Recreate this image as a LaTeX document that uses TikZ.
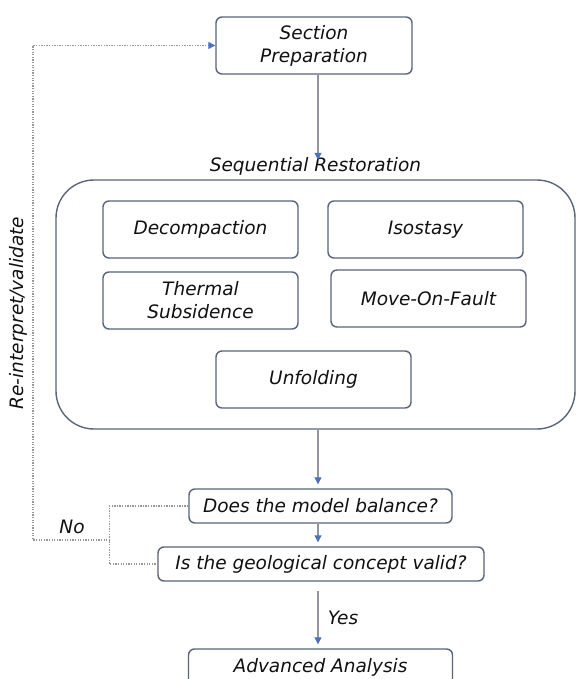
\documentclass[tikz,border=0pt]{standalone}
\usepackage{fontspec}
\setmainfont{DejaVu Sans}
\usetikzlibrary{arrows.meta}
\definecolor{boxc}{HTML}{5A6579}
\definecolor{linec}{HTML}{8E96A4}
\definecolor{arrc}{HTML}{4A72C0}
\definecolor{dotc}{HTML}{969696}
\definecolor{txtc}{HTML}{111111}
\begin{document}
\begin{tikzpicture}[x=1pt,y=-1pt,
  stepbox/.style={draw=boxc, line width=1.4pt, rounded corners=6pt, inner sep=0pt,
    align=center, text=txtc, font=\itshape\fontsize{18.5}{23}\selectfont},
  flow/.style={draw=linec, line width=1.1pt,
    -{Triangle[length=7pt,width=7pt,color=arrc,fill=arrc]}},
  fb/.style={draw=dotc, line width=1.2pt, dash pattern=on 1.3pt off 1.3pt},
  fbarrow/.style={fb, -{Triangle[length=7pt,width=7pt,color=arrc,fill=arrc]}},
  lbl/.style={inner sep=0pt, text=txtc, font=\itshape\fontsize{18.5}{23}\selectfont}]
\useasboundingbox (0,0) rectangle (576,679);
\clip (0,0) rectangle (576,679);
\fill[white] (0,0) rectangle (576,679);
\coordinate (ax) at (318,0);

\node[stepbox, minimum width=196pt, minimum height=57pt] (sp) at (314,45.5) {Section\\Preparation};
\node[lbl] (seq) at (315.5,166) {Sequential Restoration};

\node[draw=boxc, line width=1.4pt, rounded corners=38pt, minimum width=519pt,
  minimum height=249pt, inner sep=0pt] (big) at (315.5,304.5) {};

\node[stepbox, minimum width=195pt, minimum height=57pt] (dec) at (200.5,229.5) {Decompaction};
\node[stepbox, minimum width=195pt, minimum height=57pt] (iso) at (425.5,229.5) {Isostasy};
\node[stepbox, minimum width=195pt, minimum height=57pt] (thm) at (200.5,300.5) {Thermal\\Subsidence};
\node[stepbox, minimum width=195pt, minimum height=57pt] (mof) at (428.5,298.5) {Move-On-Fault};
\node[stepbox, minimum width=195pt, minimum height=57pt] (unf) at (313.5,379.5) {Unfolding};

\node[stepbox, minimum width=263pt, minimum height=34pt] (q1) at (320.5,506) {Does the model balance?};
\node[stepbox, minimum width=326pt, minimum height=34pt] (q2) at (321,564) {Is the geological concept valid?};
\node[stepbox, minimum width=264pt, minimum height=36pt] (adv) at (320.5,667) {Advanced Analysis};

\node[lbl] (yes) at (343,618) {Yes};
\node[lbl] (no) at (72,527) {No};
\node[lbl, rotate=90] (rev) at (18,313) {Re-interpret/validate};

\draw[flow, shorten >=1pt] (sp.south -| ax) -- ([yshift=-4pt]seq.north -| ax);
\draw[flow, shorten >=4pt] (big.south -| ax) -- (q1.north -| ax);
\draw[flow, shorten >=4pt] (q1.south -| ax) -- (q2.north -| ax);
\draw[flow, shorten <=9pt, shorten >=4pt] (q2.south -| ax) -- (adv.north -| ax);

\coordinate (j1) at (110,540);
\coordinate (j0) at (33,540);
\draw[fb] (q1.west) -- ++(-79,0) |- (q2.west);
\draw[fbarrow] (j1) -- (j0) |- (sp.west);
\end{tikzpicture}
\end{document}
